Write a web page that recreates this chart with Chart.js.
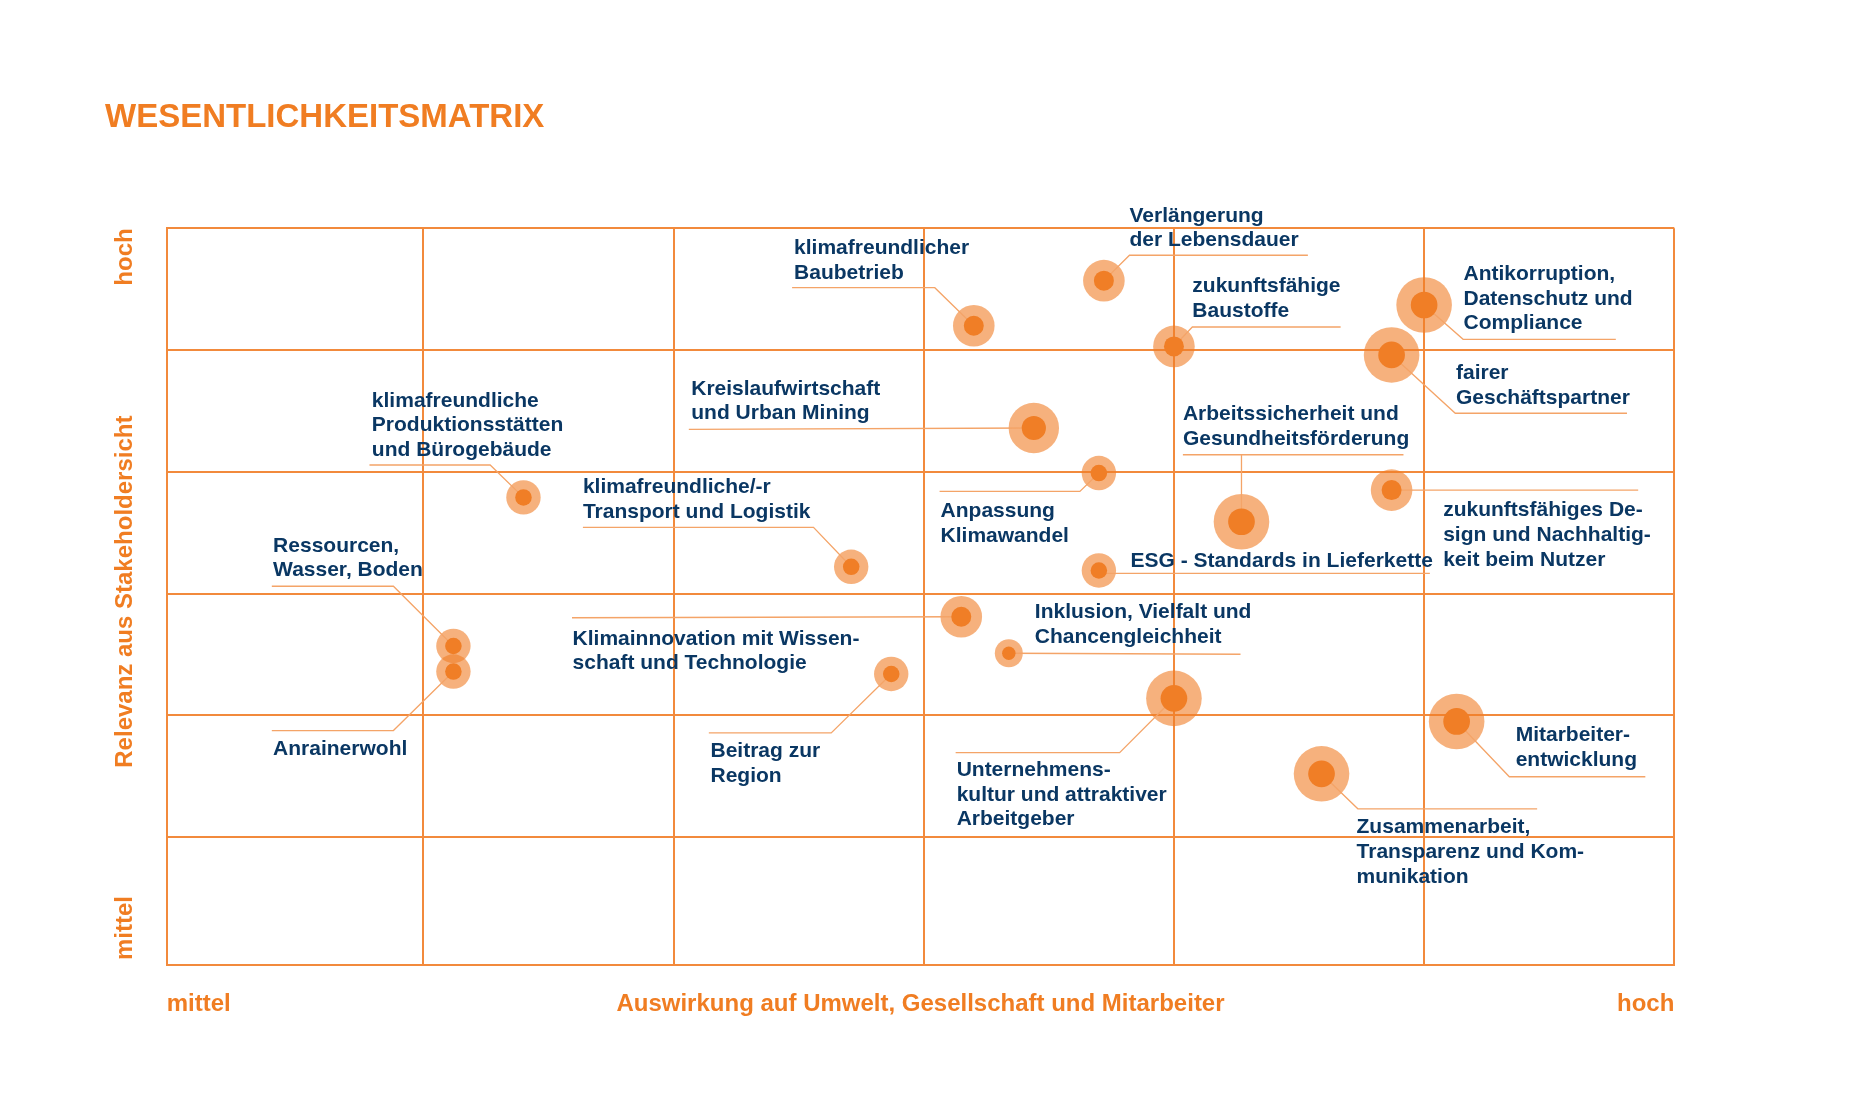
<!DOCTYPE html>
<html lang="de">
<head>
  <meta charset="UTF-8" />
  <title>Wesentlichkeitsmatrix</title>
  <script src="https://cdn.jsdelivr.net/npm/chart.js@4"></script>
  <style>
    html, body { margin: 0; padding: 0; background: #fff; overflow: hidden; }
    #wrap { position: relative; width: 1867px; height: 1116px; }
  </style>
</head>
<body>
  <div id="wrap"><canvas id="matrix"></canvas></div>

  <script>
    // Themen der Matrix (Zeilenumbrüche wie in der Vorlage)
    const themen = [
      ['klimafreundlicher', 'Baubetrieb'],
      ['Verlängerung', 'der Lebensdauer'],
      ['zukunftsfähige', 'Baustoffe'],
      ['Antikorruption,', 'Datenschutz und', 'Compliance'],
      ['fairer', 'Geschäftspartner'],
      ['Kreislaufwirtschaft', 'und Urban Mining'],
      ['klimafreundliche', 'Produktionsstätten', 'und Bürogebäude'],
      ['Anpassung', 'Klimawandel'],
      ['Arbeitssicherheit und', 'Gesundheitsförderung'],
      ['zukunftsfähiges De-', 'sign und Nachhaltig-', 'keit beim Nutzer'],
      ['klimafreundliche/-r', 'Transport und Logistik'],
      ['ESG - Standards in Lieferkette'],
      ['Klimainnovation mit Wissen-', 'schaft und Technologie'],
      ['Inklusion, Vielfalt und', 'Chancengleichheit'],
      ['Ressourcen,', 'Wasser, Boden'],
      ['Anrainerwohl'],
      ['Beitrag zur', 'Region'],
      ['Unternehmens-', 'kultur und attraktiver', 'Arbeitgeber'],
      ['Mitarbeiter-', 'entwicklung'],
      ['Zusammenarbeit,', 'Transparenz und Kom-', 'munikation']
    ];
    // Auswirkung auf Umwelt, Gesellschaft und Mitarbeiter (x, 0 = mittel ... 6 = hoch)
    const auswirkung = [3.20, 3.72, 4.00, 5.00, 4.87, 3.44, 1.40, 3.70, 4.27, 4.87,
                        2.71, 3.70, 3.15, 3.34, 1.12, 1.12, 2.87, 4.00, 5.13, 4.59];
    // Relevanz aus Stakeholdersicht (y, 0 = mittel ... 6 = hoch)
    const relevanz = [5.20, 5.57, 5.03, 5.37, 4.96, 4.36, 3.79, 3.99, 3.59, 3.85,
                      3.22, 3.19, 2.81, 2.51, 2.57, 2.36, 2.34, 2.14, 1.95, 1.52];
    // Gewichtung (Größe der Kreise, 1 = klein ... 5 = groß)
    const gewicht = [3, 3, 3, 5, 5, 4, 2, 2, 5, 3, 2, 2, 3, 1, 2, 2, 2, 5, 5, 5];

    const xTickLabels = ['mittel', 'hoch'];
    const yTickLabels = ['mittel', 'hoch'];
    const rasterWerte = [1, 2, 3, 4, 5, 6];
    const titel = 'WESENTLICHKEITSMATRIX';
    const xTitel = 'Auswirkung auf Umwelt, Gesellschaft und Mitarbeiter';
    const yTitel = 'Relevanz aus Stakeholdersicht';

    // Farben / Stil
    const ORANGE = '#F07D22';
    const GRID = '#F28A3C';
    const NAVY = '#0a3763';
    const HALO = 'rgba(240,125,38,0.6)';
    const KERN = '#F07E26';
    const LEADER = '#F4A468';
    const FONT = "'Liberation Sans', Arial, Helvetica, sans-serif";
    const haloRadius = [0, 14, 17.2, 20.8, 25.2, 27.8];

    // Position der Beschriftungen relativ zum Kreis (Pixel): Text links/Grundlinie, Führungslinie
    const beschriftung = [
      { dx: -179.7, dy: -71.4, leader: [[-39, -38], [-181.7, -38]] },
      { dx: 25.6, dy: -59, leader: [[25.6, -25.4], [204, -25.4]] },
      { dx: 18.4, dy: -54, leader: [[18.4, -19.4], [166.7, -19.4]] },
      { dx: 39.4, dy: -25, leader: [[39, 34.3], [191.7, 34.3]] },
      { dx: 64.4, dy: 24, leader: [[63.7, 58.3], [235.4, 58.3]] },
      { dx: -342.6, dy: -33.3, leader: [[-345, 1.4]] },
      { dx: -151.6, dy: -90.7, leader: [[-33.3, -32.4], [-154, -32.4]] },
      { dx: -158.3, dy: 44.4, leader: [[-19, 18.4], [-159.3, 18.4]] },
      { dx: -58.6, dy: -101.7, leader: [[0, -67], [162, -67], [-58.6, -67]] },
      { dx: 51.6, dy: 26, leader: [[246.6, 0]] },
      { dx: -268.3, dy: -73.4, leader: [[-37.7, -39.4], [-268.3, -39.4]] },
      { dx: 31.7, dy: -3.7, leader: [[0, 3], [331, 3]] },
      { dx: -388.7, dy: 28, leader: [[-389.3, 1]] },
      { dx: 26, dy: -35, leader: [[231.7, 1]] },
      { dx: -180.3, dy: -94.3, leader: [[-60, -59.7], [-181.6, -59.7]] },
      { dx: -180.3, dy: 83.3, leader: [[-60, 59], [-181.6, 59]] },
      { dx: -180.7, dy: 83.4, leader: [[-60, 59], [-182.4, 59]] },
      { dx: -217.3, dy: 77.7, leader: [[-54.3, 54.3], [-218.3, 54.3]] },
      { dx: 59, dy: 19.7, leader: [[52.7, 55.3], [188.7, 55.3]] },
      { dx: 35, dy: 59.3, leader: [[36.3, 35], [215.6, 35]] }
    ];

    const punkte = auswirkung.map((x, i) => ({ x: x, y: relevanz[i] }));
    const X_MIN = -0.026, Y_MIN = -0.05;

    // Beschriftungen, Führungslinien und Achsentexte
    const matrixPlugin = {
      id: 'matrixLabels',
      afterDatasetDraw(chart, args) {
        if (args.index !== 1) return; // nach den hellen Kreisen, vor den Kernen
        const ctx = chart.ctx;
        const meta = chart.getDatasetMeta(0);
        ctx.save();
        ctx.strokeStyle = LEADER;
        ctx.lineWidth = 1.3;
        beschriftung.forEach((b, i) => {
          const p = meta.data[i];
          ctx.beginPath();
          ctx.moveTo(p.x, p.y);
          b.leader.forEach(([dx, dy]) => ctx.lineTo(p.x + dx, p.y + dy));
          ctx.stroke();
        });
        ctx.restore();
      },
      afterDraw(chart) {
        const ctx = chart.ctx;
        const area = chart.chartArea;
        const meta = chart.getDatasetMeta(0);
        ctx.save();

        // Themen
        ctx.fillStyle = NAVY;
        ctx.font = 'bold 21px ' + FONT;
        ctx.textAlign = 'left';
        ctx.textBaseline = 'alphabetic';
        themen.forEach((zeilen, i) => {
          const p = meta.data[i];
          const b = beschriftung[i];
          zeilen.forEach((z, k) => ctx.fillText(z, p.x + b.dx, p.y + b.dy + k * 24.7));
        });

        // Titel
        ctx.fillStyle = ORANGE;
        ctx.font = 'bold 33px ' + FONT;
        ctx.fillText(titel, 105, 127);

        // x-Achsentitel
        ctx.font = 'bold 24px ' + FONT;
        ctx.textAlign = 'center';
        ctx.fillText(xTitel, (area.left + area.right) / 2, 1011);

        // y-Achse (gedreht)
        const yScale = chart.scales.y;
        const yText = (txt, y, align) => {
          ctx.save();
          ctx.translate(132, y);
          ctx.rotate(-Math.PI / 2);
          ctx.textAlign = align;
          ctx.fillText(txt, 0, 0);
          ctx.restore();
        };
        yText(yTickLabels[0], area.bottom - 5, 'left');
        yText(yTickLabels[1], yScale.getPixelForValue(6), 'right');
        yText(yTitel, (area.top + area.bottom) / 2 - 5, 'center');

        ctx.restore();
      }
    };

    new Chart(document.getElementById('matrix'), {
      type: 'scatter',
      data: {
        datasets: [
          {
            label: 'Kern',
            data: punkte,
            order: 0,
            pointRadius: punkte.map((p, i) => haloRadius[gewicht[i]] * 0.48),
            pointHoverRadius: punkte.map((p, i) => haloRadius[gewicht[i]] * 0.48),
            backgroundColor: KERN,
            borderWidth: 0
          },
          {
            label: 'Halo',
            data: punkte,
            order: 1,
            pointRadius: punkte.map((p, i) => haloRadius[gewicht[i]]),
            pointHoverRadius: punkte.map((p, i) => haloRadius[gewicht[i]]),
            backgroundColor: HALO,
            borderWidth: 0
          }
        ]
      },
      options: {
        responsive: true,
        maintainAspectRatio: false,
        animation: false,
        events: [],
        layout: { padding: { top: 228.3, right: 192.7, left: 0, bottom: 0 } },
        plugins: {
          legend: { display: false },
          tooltip: { enabled: false },
          title: { display: false }
        },
        scales: {
          x: {
            type: 'linear',
            min: X_MIN,
            max: 6,
            afterBuildTicks: (scale) => { scale.ticks = [X_MIN, ...rasterWerte].map(v => ({ value: v })); },
            afterFit: (scale) => { scale.height = 151; },
            grid: { color: GRID, lineWidth: 2, drawTicks: false },
            border: { color: GRID, width: 2 },
            ticks: {
              autoSkip: false,
              maxRotation: 0,
              align: 'inner',
              padding: 25,
              color: ORANGE,
              font: { family: FONT, size: 24, weight: 'bold' },
              callback: (v, i, ticks) => i === 0 ? xTickLabels[0] : (i === ticks.length - 1 ? xTickLabels[1] : '')
            }
          },
          y: {
            type: 'linear',
            min: Y_MIN,
            max: 6,
            afterBuildTicks: (scale) => { scale.ticks = [Y_MIN, ...rasterWerte].map(v => ({ value: v })); },
            afterFit: (scale) => { scale.width = 166.7; },
            grid: { color: GRID, lineWidth: 2, drawTicks: false },
            border: { color: GRID, width: 2 },
            ticks: { display: false }
          }
        }
      },
      plugins: [matrixPlugin]
    });
  </script>
</body>
</html>
